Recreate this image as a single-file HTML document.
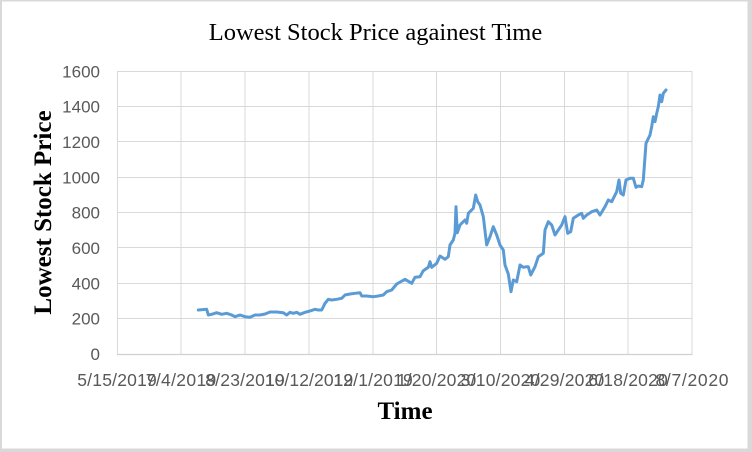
<!DOCTYPE html>
<html>
<head>
<meta charset="utf-8">
<style>
  html, body { margin: 0; padding: 0; background: #d9d9d9; }
  body { width: 752px; height: 452px; overflow: hidden; position: relative; }
  svg { position: absolute; left: 0; top: 0; }
</style>
</head>
<body>
<svg width="752" height="452" viewBox="0 0 752 452" xmlns="http://www.w3.org/2000/svg">
  <rect x="0" y="0" width="752" height="452" fill="#d9d9d9"/>
  <rect x="2" y="1.5" width="745.5" height="447" fill="#ffffff"/>

  <!-- Title -->
  <text x="375.5" y="40" font-family="'Liberation Serif', serif" font-size="24.5" fill="#000" text-anchor="middle">Lowest Stock Price againest Time</text>

  <!-- gridlines -->
  <g stroke="#d9d9d9" stroke-width="1" fill="none">
    <line x1="117" y1="71.5" x2="692" y2="71.5"/>
    <line x1="117" y1="106.5" x2="692" y2="106.5"/>
    <line x1="117" y1="141.5" x2="692" y2="141.5"/>
    <line x1="117" y1="177.5" x2="692" y2="177.5"/>
    <line x1="117" y1="212.5" x2="692" y2="212.5"/>
    <line x1="117" y1="247.5" x2="692" y2="247.5"/>
    <line x1="117" y1="283.5" x2="692" y2="283.5"/>
    <line x1="117" y1="318.5" x2="692" y2="318.5"/>
    <line x1="117.5" y1="71" x2="117.5" y2="354"/>
    <line x1="181" y1="71" x2="181" y2="354"/>
    <line x1="245" y1="71" x2="245" y2="354"/>
    <line x1="309" y1="71" x2="309" y2="354"/>
    <line x1="373" y1="71" x2="373" y2="354"/>
    <line x1="436.5" y1="71" x2="436.5" y2="354"/>
    <line x1="500.5" y1="71" x2="500.5" y2="354"/>
    <line x1="564.5" y1="71" x2="564.5" y2="354"/>
    <line x1="628" y1="71" x2="628" y2="354"/>
    <line x1="692" y1="71" x2="692" y2="354"/>
  </g>
  <line x1="117" y1="354.5" x2="692.5" y2="354.5" stroke="#d0d0d0" stroke-width="1.2"/>

  <!-- y tick labels -->
  <g font-family="'Liberation Sans', sans-serif" font-size="17" fill="#595959" text-anchor="end">
    <text x="100" y="77.5">1600</text>
    <text x="100" y="112.5">1400</text>
    <text x="100" y="148">1200</text>
    <text x="100" y="183.5">1000</text>
    <text x="100" y="218.5">800</text>
    <text x="100" y="254">600</text>
    <text x="100" y="289.5">400</text>
    <text x="100" y="324.5">200</text>
    <text x="100" y="360">0</text>
  </g>

  <!-- x tick labels -->
  <g font-family="'Liberation Sans', sans-serif" font-size="17.5" fill="#595959" text-anchor="middle" lengthAdjust="spacing">
    <text x="117" y="386" textLength="79.5">5/15/2019</text>
    <text x="181" y="386" textLength="70.5">7/4/2019</text>
    <text x="245" y="386" textLength="79.5">8/23/2019</text>
    <text x="309" y="386" textLength="88.5">10/12/2019</text>
    <text x="373" y="386" textLength="79.5">12/1/2019</text>
    <text x="436.5" y="386" textLength="79.5">1/20/2020</text>
    <text x="500.5" y="386" textLength="79.5">3/10/2020</text>
    <text x="564.5" y="386" textLength="79.5">4/29/2020</text>
    <text x="628" y="386" textLength="79.5">6/18/2020</text>
    <text x="692" y="386" textLength="73">8/7/2020</text>
  </g>

  <!-- axis titles -->
  <text x="405" y="419" font-family="'Liberation Serif', serif" font-size="25" font-weight="bold" fill="#000" text-anchor="middle">Time</text>
  <text transform="translate(51,212.5) rotate(-90)" x="0" y="0" font-family="'Liberation Serif', serif" font-size="25" font-weight="bold" fill="#000" text-anchor="middle">Lowest Stock Price</text>

  <!-- series -->
  <polyline fill="none" stroke="#5b9bd5" stroke-width="3" stroke-linejoin="round" stroke-linecap="round"
    points="198.3,310 206.7,309.3 208.3,315 211.7,314.3 216.7,312.7 221.7,314.3 226.7,313.3 231.7,315 235,316.7 240,315 245,316.7 250,317.3 255,315 260,315 265,314 270,312 276.7,312 283.3,312.7 286.7,315 290,312.3 293.3,313.3 296.7,312.3 300,314.3 305,312.3 310,311 315,309.3 318.3,310 321.7,310 325,303.3 328.3,299.3 331.7,300 336.7,299.3 341.7,298.3 345,295 350,294 355,293.3 360,292.7 361.7,296 366.7,296 373.3,296.7 378.3,296 383.3,295 386.7,291.7 391.7,290 396.7,284 405,279.3 411.7,283.3 415,277.3 420,276.7 423.3,270.7 428.3,267.3 430,261.7 431.7,267.3 436.7,263.3 440,256 445,259.3 448.3,256.7 450,245 453.3,240 455,233.3 456,206.7 457.3,232.7 460,225 465,220 466.7,223.3 468.3,213.3 473.3,208.3 475.7,195 477.7,201.7 480,205 483.3,216.7 486.7,245 490,236.7 493.3,226.7 496.7,235 500,245 503.3,250 505,265 508.3,274 511,291.7 513.3,280 516.7,281.7 520,265 523.3,267.3 526.7,266.7 528.3,266.7 530.7,275 535,266.7 538.3,256.7 543.3,253.3 545,230 548.3,221.7 551.7,225 555,235 558.3,230 561.7,225 565,216.7 567.7,233.3 570.7,231.7 573.3,218.3 578.3,215 581.7,213.3 583.3,218.3 586.7,215 591.7,211.7 596.7,210 600,215 605,206.7 608.3,200 611.7,201.7 616.7,191.7 619,180 620.7,193.3 623.3,195 626,180 630,178.3 633.3,178.3 636,187.3 638.3,186 641.7,186.7 643.3,180 646,143.3 650,135 651.7,126.7 653.3,116.7 655,121.7 656.7,113.3 658.3,106.7 660,95 661.7,101.7 663.3,93.3 666,90"/>
</svg>
</body>
</html>
